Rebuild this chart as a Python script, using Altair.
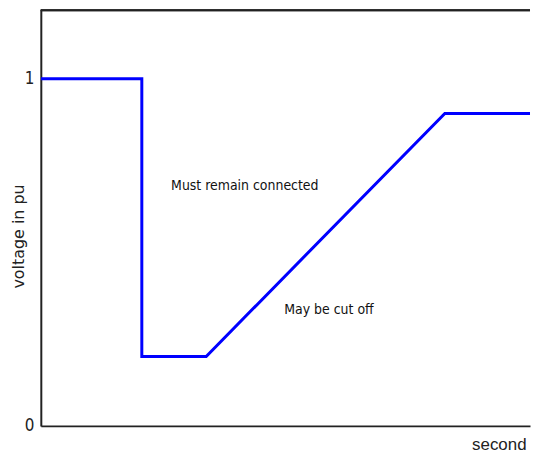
import altair as alt
import pandas as pd

# Curve (time in arbitrary seconds, voltage in pu)
curve_t = [0.0, 1.02, 1.02, 1.67, 4.08, 5.0]
curve_v = [1.0, 1.0, 0.2, 0.2, 0.9, 0.9]

# Annotations
note_text = ["Must remain connected", "May be cut off"]
note_t = [2.06, 2.91]
note_v = [0.69, 0.335]

y_ticks = [0, 1]

W, H = 492, 419
NARROW = "'Liberation Sans Narrow', 'DejaVu Sans Condensed', 'Arial Narrow', sans-serif"

curve = pd.DataFrame({"t": curve_t, "v": curve_v, "order": list(range(len(curve_t)))})
notes = pd.DataFrame({"t": note_t, "v": note_v, "label": note_text})

x_scale = alt.Scale(domain=[0, 4.94], nice=False, zero=False)
y_scale = alt.Scale(domain=[0, 1.2], nice=False)

line = alt.Chart(curve).mark_line(color="#0000FF", strokeWidth=3, clip=True).encode(
    x=alt.X("t:Q", scale=x_scale, axis=alt.Axis(
        title="second", labels=False, ticks=False, grid=False, tickSize=0,
        domainColor="#222222", domainWidth=2,
        titleFont="Liberation Sans", titleFontSize=17, titleFontWeight="normal",
        titleColor="#222222", titleAnchor="end", titleAlign="right",
        titleX=488, titleY=28, titleBaseline="bottom")),
    y=alt.Y("v:Q", scale=y_scale, axis=alt.Axis(
        title="voltage in pu", values=y_ticks, format="d", ticks=False, tickSize=0,
        grid=False, labelPadding=7, domainColor="#222222", domainWidth=2,
        labelFont=NARROW, labelFontSize=17, labelColor="#222222",
        titleFont="DejaVu Sans", titleFontSize=16, titleFontWeight="normal",
        titleColor="#222222", titleX=-14, titleY=228)),
    order="order:Q",
)

text = alt.Chart(notes).mark_text(
    font=NARROW, fontSize=14, color="#111111",
    align="center", baseline="middle",
).encode(
    x=alt.X("t:Q", scale=x_scale),
    y=alt.Y("v:Q", scale=y_scale),
    text="label:N",
)

top = alt.Chart(notes).mark_rule(color="#222222", strokeWidth=2).encode(
    x=alt.value(0), x2=alt.value(W), y=alt.value(1)
)

chart = alt.layer(line, text, top).properties(
    width=W, height=H,
    padding={"left": 3, "top": 0, "right": 0, "bottom": 0},
).configure_view(stroke=None)

chart.save("out.html", embed_options={"renderer": "svg", "actions": False})
